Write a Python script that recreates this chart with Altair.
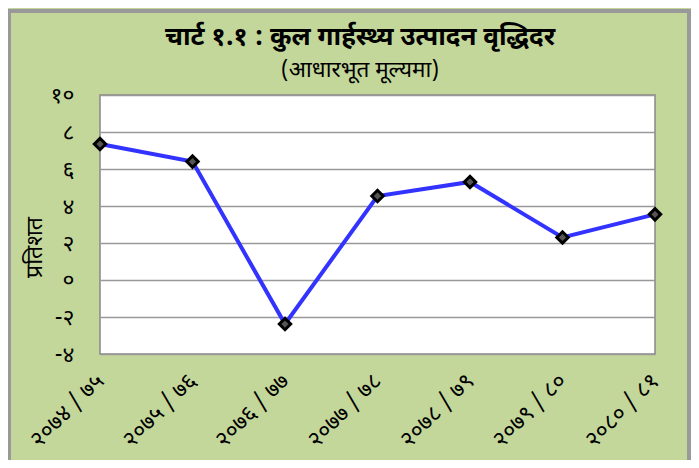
import json
import altair as alt
import pandas as pd

years = ["२०७४ / ७५", "२०७५ / ७६", "२०७६ / ७७", "२०७७ / ७८", "२०७८ / ७९", "२०७९ / ८०", "२०८० / ८१"]
growth = [7.35, 6.4, -2.38, 4.54, 5.3, 2.3, 3.55]
y_ticks = [-4, -2, 0, 2, 4, 6, 8, 10]
y_tick_labels = ["-४", "-२", "०", "२", "४", "६", "८", "१०"]
title_text = "चार्ट १.१ : कुल गार्हस्थ्य उत्पादन वृद्धिदर"
subtitle_text = "(आधारभूत मूल्यमा)"

df = pd.DataFrame({"year": years, "growth": growth})

FONT = "Noto Sans Devanagari, Lohit Devanagari, Noto Sans, sans-serif"
label_map = json.dumps({str(v): l for v, l in zip(y_ticks, y_tick_labels)}, ensure_ascii=False)

x = alt.X("year:N", sort=years, title=None,
          scale=alt.Scale(type="point", padding=0),
          axis=alt.Axis(labelAngle=-45, labelAlign="right", labelBaseline="middle",
                        labelFontSize=23, labelPadding=23, ticks=False, domain=False,
                        labelColor="black", labelFont=FONT))
y = alt.Y("growth:Q", title="प्रतिशत",
          scale=alt.Scale(domain=[-4, 10], nice=False, zero=False),
          axis=alt.Axis(values=y_ticks, labelExpr=f"{label_map}[datum.value]",
                        labelFontSize=23, labelPadding=26, ticks=False, domain=False,
                        gridColor="#999999", gridWidth=1.5, labelColor="black",
                        titleFontSize=23, titleFontWeight="normal", titleColor="black",
                        titlePadding=4, titleY=152, labelFont=FONT, titleFont=FONT))

line = alt.Chart(df).mark_line(color="#3333FF", strokeWidth=4).encode(x=x, y=y)
pts = alt.Chart(df).mark_point(shape="diamond", filled=True, fill="#555555",
                               stroke="black", strokeWidth=3, size=130, opacity=1).encode(x=x, y=y)
frame = alt.Chart(df).mark_rect(fill=None, stroke="#999999", strokeWidth=3).encode(
    x=alt.value(-91), x2=alt.value(589), y=alt.value(-84), y2=alt.value(400))
title = alt.Chart(pd.DataFrame({"t": [title_text]})).mark_text(
    fontSize=26, fontWeight="bold", font=FONT, color="black", baseline="middle").encode(
    text="t:N", x=alt.value(260), y=alt.value(-58))
subtitle = alt.Chart(pd.DataFrame({"t": [subtitle_text]})).mark_text(
    fontSize=22.5, font=FONT, color="black", baseline="middle").encode(
    text="t:N", x=alt.value(260), y=alt.value(-25))

chart = alt.layer(line, pts, frame, title, subtitle).properties(
    width=555, height=259,
    autosize=alt.AutoSizeParams(type="none"),
    padding={"left": 92, "right": 36, "top": 87, "bottom": 106},
    background="#C4D79B",
).configure_view(fill="white", stroke="#888888", strokeWidth=1.5)

chart.save("out.html", embed_options={"renderer": "svg", "actions": False})
